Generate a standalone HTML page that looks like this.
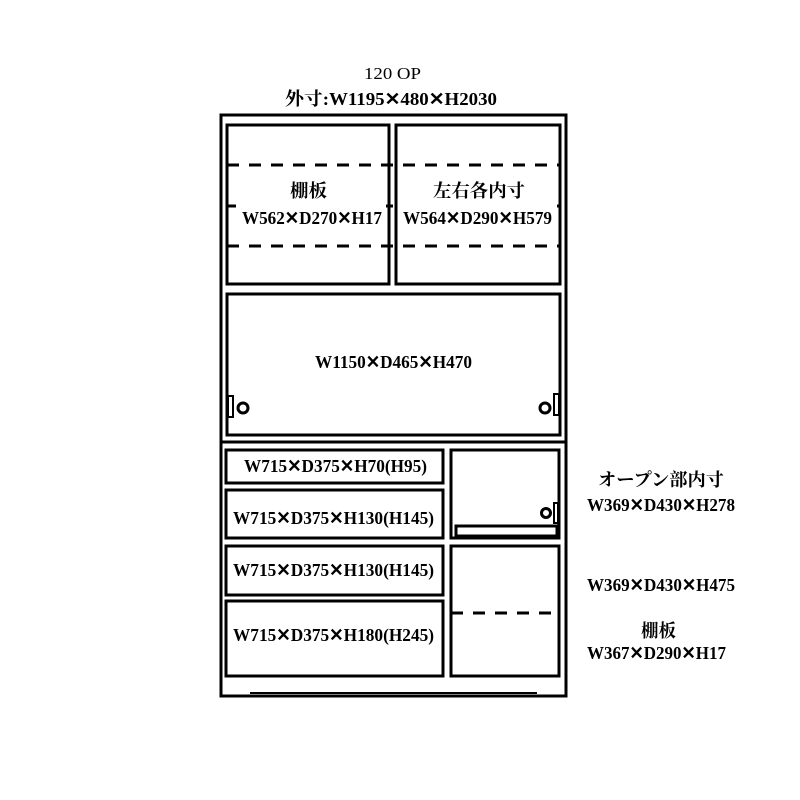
<!DOCTYPE html>
<html><head><meta charset="utf-8"><style>html,body{margin:0;padding:0;background:#fff}svg{display:block}</style></head>
<body>
<svg width="800" height="800" viewBox="0 0 800 800" xmlns="http://www.w3.org/2000/svg">
<g fill="none" stroke="#000" stroke-width="3">
<g stroke-dasharray="12,10">
<line x1="227" y1="165" x2="560" y2="165"/>
<line x1="227" y1="206" x2="560" y2="206"/>
<line x1="227" y1="246" x2="560" y2="246"/>
<line x1="451" y1="613" x2="559" y2="613"/>
</g>
</g>
<rect x="236" y="198" width="150" height="32" fill="#fff"/>
<rect x="400" y="198" width="156" height="32" fill="#fff"/>
<g fill="none" stroke="#000" stroke-width="3">
<rect x="221" y="115" width="345" height="581"/>
<rect x="227" y="125" width="162" height="159"/>
<rect x="396" y="125" width="164" height="159"/>
<rect x="227" y="294" width="333" height="141"/>
<line x1="221" y1="442" x2="566" y2="442"/>
<rect x="226" y="450" width="217" height="33"/>
<rect x="226" y="490" width="217" height="48"/>
<rect x="226" y="546" width="217" height="49"/>
<rect x="226" y="601" width="217" height="75"/>
<rect x="451" y="450" width="108" height="88"/>
<rect x="451" y="546" width="108" height="130"/>
<line x1="250" y1="693" x2="537" y2="693" stroke-width="2"/>
<rect x="456" y="526" width="101" height="10"/>
<rect x="228" y="396" width="5" height="21" stroke-width="2"/>
<circle cx="243" cy="408" r="5"/>
<rect x="554" y="394" width="5" height="21" stroke-width="2"/>
<circle cx="545" cy="408" r="5"/>
<rect x="554" y="503" width="4" height="20" stroke-width="2"/>
<circle cx="546" cy="513" r="4.5"/>
</g>
<g font-family="'Liberation Serif','Noto Serif CJK SC',serif" font-weight="bold" font-size="18" fill="#000">
<text x="364" y="79" textLength="57" lengthAdjust="spacingAndGlyphs" font-weight="normal" font-size="17">120 OP</text>
<text x="285" y="105" textLength="212" lengthAdjust="spacingAndGlyphs">外寸:W1195✕480✕H2030</text>
<text x="290" y="197" textLength="37" lengthAdjust="spacingAndGlyphs">棚板</text>
<text x="242" y="224" textLength="140" lengthAdjust="spacingAndGlyphs">W562✕D270✕H17</text>
<text x="433" y="197" textLength="92" lengthAdjust="spacingAndGlyphs">左右各内寸</text>
<text x="403" y="224" textLength="149" lengthAdjust="spacingAndGlyphs">W564✕D290✕H579</text>
<text x="315" y="368" textLength="157" lengthAdjust="spacingAndGlyphs">W1150✕D465✕H470</text>
<text x="244" y="472" textLength="183" lengthAdjust="spacingAndGlyphs">W715✕D375✕H70(H95)</text>
<text x="233" y="524" textLength="201" lengthAdjust="spacingAndGlyphs">W715✕D375✕H130(H145)</text>
<text x="233" y="576" textLength="201" lengthAdjust="spacingAndGlyphs">W715✕D375✕H130(H145)</text>
<text x="233" y="641" textLength="201" lengthAdjust="spacingAndGlyphs">W715✕D375✕H180(H245)</text>
<text x="598" y="486" textLength="126" lengthAdjust="spacingAndGlyphs">オープン部内寸</text>
<text x="587" y="511" textLength="148" lengthAdjust="spacingAndGlyphs">W369✕D430✕H278</text>
<text x="587" y="591" textLength="148" lengthAdjust="spacingAndGlyphs">W369✕D430✕H475</text>
<text x="641" y="637" textLength="35" lengthAdjust="spacingAndGlyphs">棚板</text>
<text x="587" y="659" textLength="139" lengthAdjust="spacingAndGlyphs">W367✕D290✕H17</text>
</g>
</svg>
</body></html>
